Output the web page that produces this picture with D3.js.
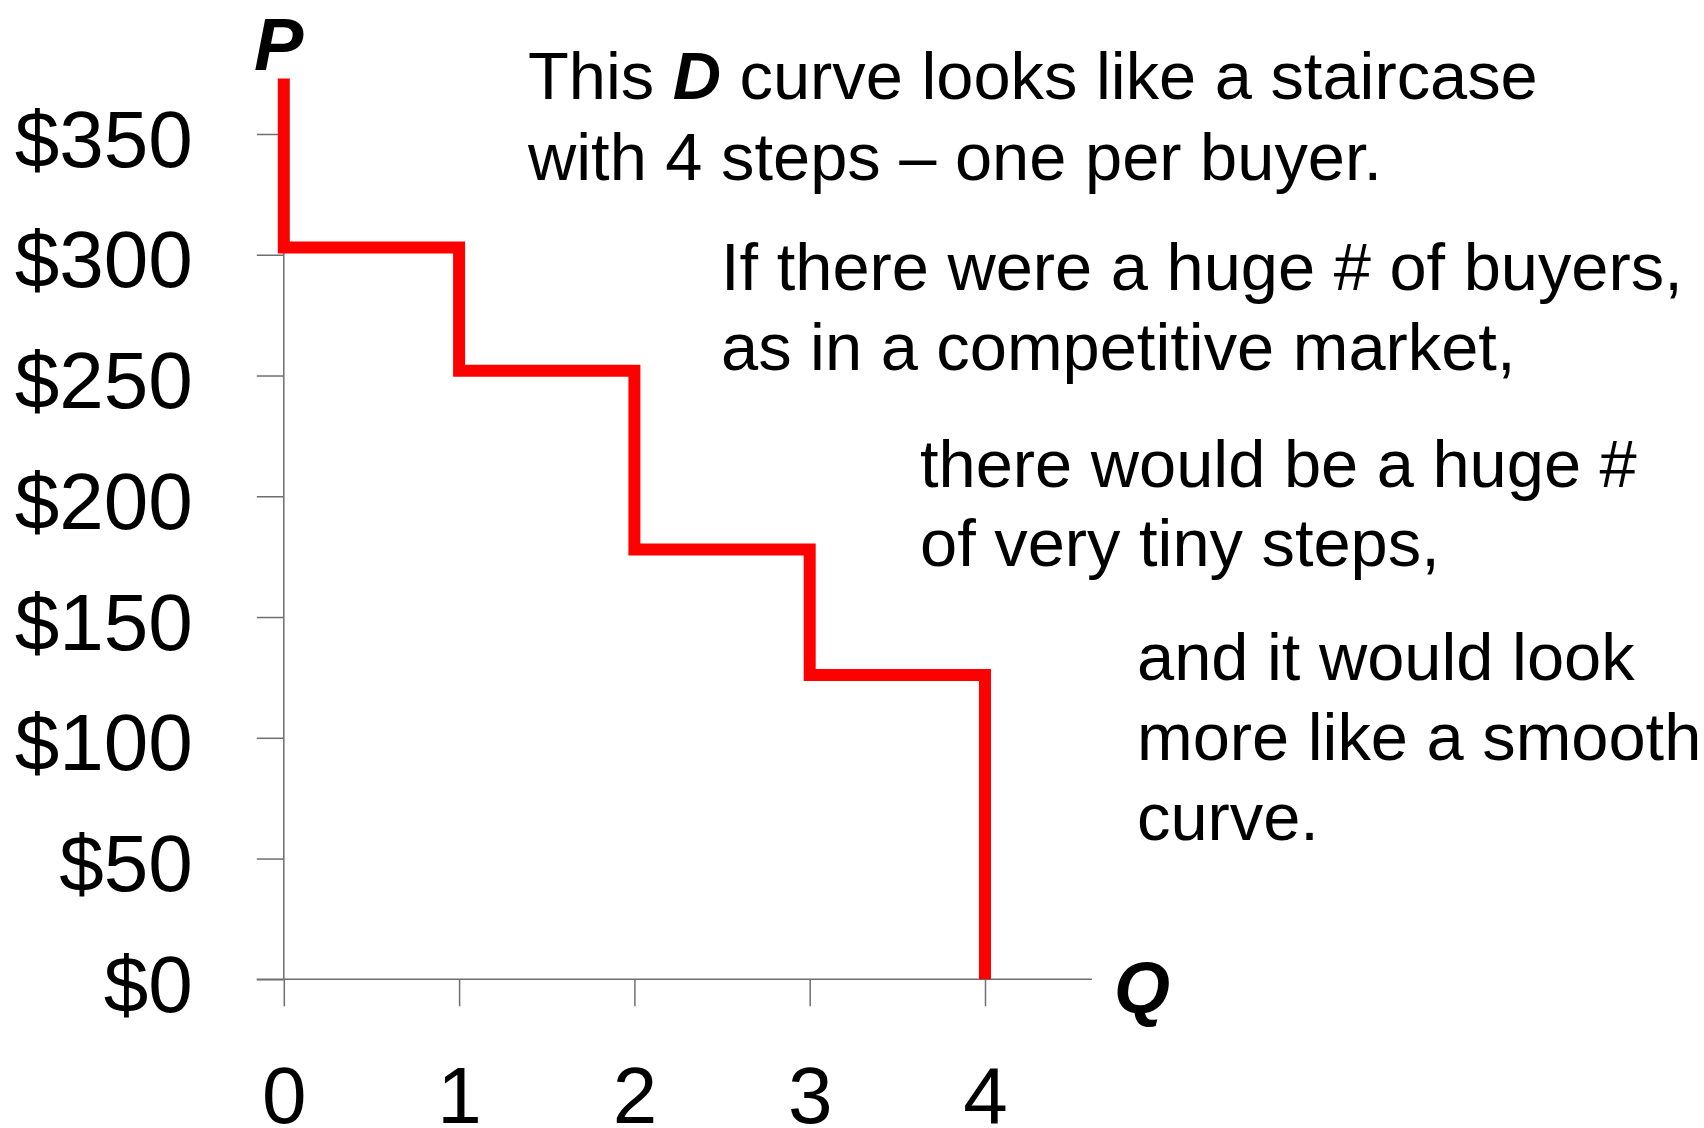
<!DOCTYPE html>
<html>
<head>
<meta charset="utf-8">
<script src="https://cdn.jsdelivr.net/npm/d3@7"></script>
<style>
  html, body { margin: 0; padding: 0; background: #fff; }
  svg { display: block; }
  text { font-family: "Liberation Sans", Arial, sans-serif; fill: #000; }
</style>
</head>
<body>
<svg id="chart" width="1704" height="1128"></svg>
<script>
// ---- data ----
const priceTicks = [0, 50, 100, 150, 200, 250, 300, 350];
const priceLabels = ["$0", "$50", "$100", "$150", "$200", "$250", "$300", "$350"];
const quantityTicks = [0, 1, 2, 3, 4];
const quantityLabels = ["0", "1", "2", "3", "4"];
const buyerQ = [0, 1, 2, 3, 4];          // step edges along Q
const buyerPrice = [303, 252, 178, 126]; // willingness to pay of each buyer (step heights)
const curveTopPrice = 373;               // where the D curve starts on the P axis
const block1 = ["This ", "D", " curve looks like a staircase", "with 4 steps \u2013 one per buyer."];
const block2 = ["If there were a huge # of buyers,", "as in a competitive market,"];
const block3 = ["there would be a huge #", "of very tiny steps,"];
const block4 = ["and it would look", "more like a smooth", "curve."];

// ---- layout ----
const svg = d3.select("#chart");
const x = d3.scaleLinear().domain([0, 4]).range([283.8, 985]);
const y = d3.scaleLinear().domain([0, 350]).range([979.3, 134]);
const axisColor = "#6f6f6f";
const tickLen = 27;

// y axis
const yAxis = d3.axisLeft(y)
  .tickValues(priceTicks)
  .tickFormat((d, i) => priceLabels[i])
  .tickSize(tickLen)
  .tickPadding(64);
const gy = svg.append("g").attr("transform", `translate(${x(0)},0)`).call(yAxis);
gy.select(".domain").remove();
gy.selectAll(".tick line").attr("stroke", axisColor).attr("stroke-width", 1.5);
gy.selectAll(".tick text")
  .attr("font-size", 80)
  .attr("font-family", "Liberation Sans, Arial, sans-serif")
  .attr("fill", "#000")
  .attr("dy", "0.40em");
svg.append("line")
  .attr("x1", x(0)).attr("x2", x(0))
  .attr("y1", y(0)).attr("y2", y(350))
  .attr("stroke", axisColor).attr("stroke-width", 1.5);

// x axis
const xAxis = d3.axisBottom(x)
  .tickValues(quantityTicks)
  .tickFormat((d, i) => quantityLabels[i])
  .tickSize(tickLen)
  .tickPadding(60);
const gx = svg.append("g").attr("transform", `translate(0,${y(0)})`).call(xAxis);
gx.select(".domain").remove();
gx.selectAll(".tick line").attr("stroke", axisColor).attr("stroke-width", 1.5);
gx.selectAll(".tick text")
  .attr("font-size", 80)
  .attr("font-family", "Liberation Sans, Arial, sans-serif")
  .attr("fill", "#000")
  .attr("dy", "0.71em");
svg.append("line")
  .attr("x1", x(0) - tickLen).attr("x2", x(4.61))
  .attr("y1", y(0)).attr("y2", y(0))
  .attr("stroke", axisColor).attr("stroke-width", 1.5);

// staircase demand curve
const pts = [[buyerQ[0], curveTopPrice]];
buyerPrice.forEach((p, i) => {
  pts.push([buyerQ[i], p]);
  pts.push([buyerQ[i + 1], p]);
});
pts.push([buyerQ[buyerQ.length - 1], 0]);
svg.append("path")
  .datum(pts)
  .attr("d", d3.line().x(d => x(d[0])).y(d => y(d[1])))
  .attr("fill", "none")
  .attr("stroke", "#ff0000")
  .attr("stroke-width", 12)
  .attr("stroke-linejoin", "miter")
  .attr("stroke-linecap", "butt");

// axis letters
svg.append("text").attr("x", 254).attr("y", 70)
  .attr("font-size", 74).attr("font-weight", "bold").attr("font-style", "italic")
  .text("P");
svg.append("text").attr("x", 1114).attr("y", 1013)
  .attr("font-size", 72).attr("font-weight", "bold").attr("font-style", "italic")
  .text("Q");

// annotation text
const fs = 66.8;
const t1 = svg.append("text").attr("x", 528).attr("y", 99).attr("font-size", fs);
t1.append("tspan").text(block1[0]);
t1.append("tspan").attr("font-weight", "bold").attr("font-style", "italic").text(block1[1]);
t1.append("tspan").text(block1[2]);
svg.append("text").attr("x", 528).attr("y", 180).attr("font-size", fs).text(block1[3]);

function block(lines, x0, y0, lh) {
  lines.forEach((s, i) => {
    svg.append("text").attr("x", x0).attr("y", y0 + i * lh).attr("font-size", fs).text(s);
  });
}
block(block2, 721, 290, 80);
block(block3, 920, 487, 79);
block(block4, 1137, 680, 80);
</script>
</body>
</html>
